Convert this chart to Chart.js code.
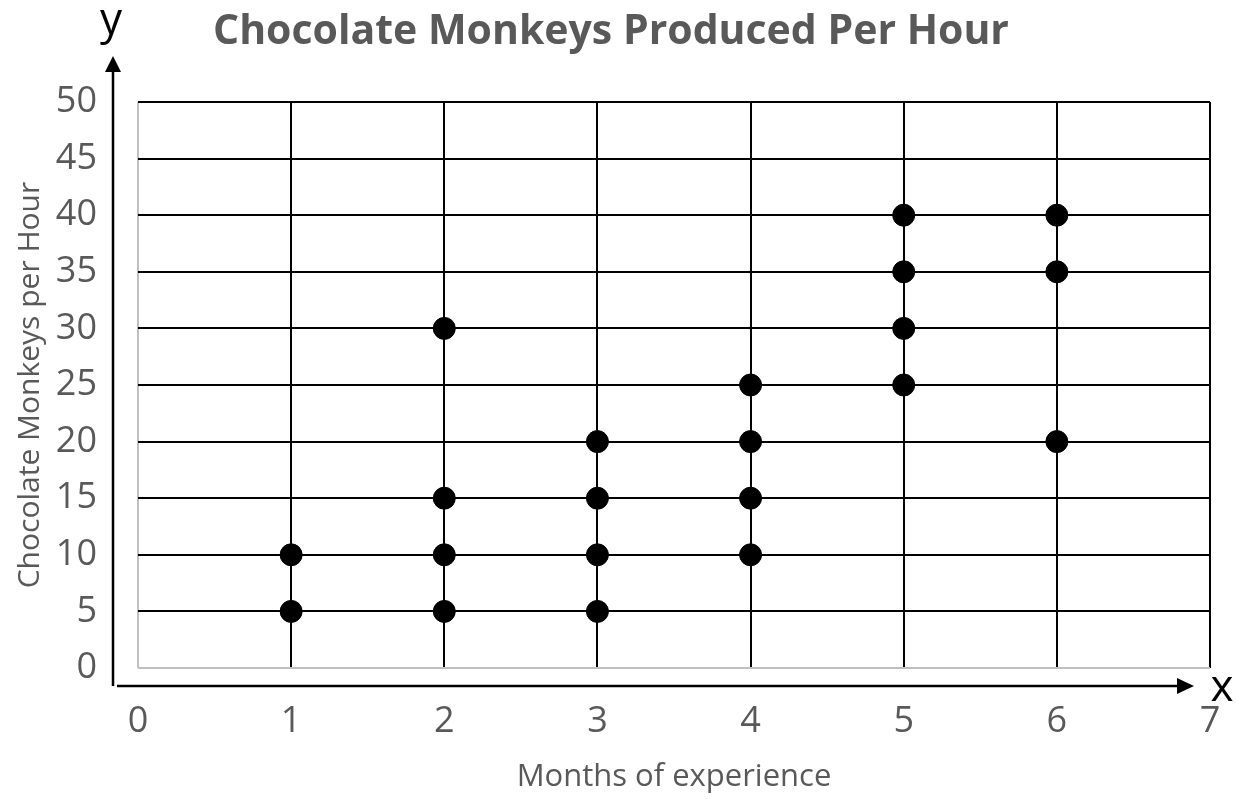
<!DOCTYPE html>
<html>
<head>
<meta charset="utf-8">
<script src="https://cdn.jsdelivr.net/npm/chart.js@4.4.1/dist/chart.umd.min.js"></script>
<style>
  html, body { margin: 0; padding: 0; background: #fff; }
  #wrap { width: 1237px; height: 799px; }
</style>
</head>
<body>
<div id="wrap"><canvas id="monkeyChart" width="1237" height="799"></canvas></div>
<script>
// months of experience and monkeys per hour, one point each
const months = [1, 1, 2, 2, 2, 2, 3, 3, 3, 3, 4, 4, 4, 4, 5, 5, 5, 5, 6, 6, 6];
const monkeys = [5, 10, 5, 10, 15, 30, 5, 10, 15, 20, 10, 15, 20, 25, 25, 30, 35, 40, 20, 35, 40];

const xMin = 0, xMax = 7;
const yMin = 0, yMax = 50, yStep = 5;

const points = months.map((m, i) => ({ x: m, y: monkeys[i] }));

// axis arrows with x / y letters
const arrows = {
    id: "arrows",
    afterDraw(chart) {
        const { ctx, chartArea: a } = chart;
        const ax = a.left - 25;
        const ay = a.bottom + 18;
        ctx.save();
        ctx.strokeStyle = "#000";
        ctx.fillStyle = "#000";
        ctx.lineWidth = 2.5;

        ctx.beginPath();
        ctx.moveTo(ax, ay);
        ctx.lineTo(ax, a.top - 32);
        ctx.stroke();
        ctx.beginPath();
        ctx.moveTo(ax, a.top - 46);
        ctx.lineTo(ax - 8, a.top - 30);
        ctx.lineTo(ax + 8, a.top - 30);
        ctx.closePath();
        ctx.fill();

        ctx.beginPath();
        ctx.moveTo(ax + 4, ay);
        ctx.lineTo(a.right - 32, ay);
        ctx.stroke();
        ctx.beginPath();
        ctx.moveTo(a.right - 16, ay);
        ctx.lineTo(a.right - 33, ay - 8);
        ctx.lineTo(a.right - 33, ay + 8);
        ctx.closePath();
        ctx.fill();

        ctx.font = "44px 'Open Sans'";
        ctx.textAlign = "center";
        ctx.textBaseline = "alphabetic";
        ctx.fillText("y", ax - 2, 34);
        ctx.fillText("x", a.right + 12, ay + 15);
        ctx.restore();
    }
};

const ctx = document.getElementById("monkeyChart").getContext("2d");

new Chart(ctx, {
    type: "scatter",
    data: {
        datasets: [
            {
                label: "Chocolate Monkeys",
                data: points,
                backgroundColor: "#000",
                borderColor: "#000",
                pointRadius: 11,
                pointHoverRadius: 11
            }
        ]
    },
    options: {
        responsive: false,
        animation: false,
        layout: { padding: { left: 12, right: 27, top: 0, bottom: 0 } },
        plugins: {
            legend: { display: false },
            tooltip: { enabled: false },
            title: {
                display: true,
                text: "Chocolate Monkeys Produced Per Hour",
                color: "#595959",
                font: { family: "'Open Sans'", size: 41, weight: "bold" },
                padding: { top: 8, bottom: 44.8 }
            }
        },
        scales: {
            x: {
                type: "linear",
                min: xMin,
                max: xMax,
                afterFit: s => { s.height = 131; },
                ticks: {
                    stepSize: 1,
                    color: "#595959",
                    font: { family: "'Open Sans'", size: 36 },
                    padding: 0
                },
                grid: {
                    color: c => c.tick && c.tick.value === 0 ? "#c0c0c0" : "#000",
                    lineWidth: 2,
                    drawTicks: true,
                    tickLength: 32,
                    tickColor: "rgba(0,0,0,0)"
                },
                border: { display: false },
                title: {
                    display: true,
                    text: "Months of experience",
                    color: "#595959",
                    font: { family: "'Open Sans'", size: 31 },
                    padding: { top: 0, bottom: 3 }
                }
            },
            y: {
                min: yMin,
                max: yMax,
                afterFit: s => { s.width = 126; },
                ticks: {
                    stepSize: yStep,
                    color: "#595959",
                    font: { family: "'Open Sans'", size: 36 },
                    padding: 41
                },
                grid: {
                    color: c => c.tick && c.tick.value === 0 ? "#c0c0c0" : "#000",
                    lineWidth: 2,
                    drawTicks: false
                },
                border: { display: false },
                title: {
                    display: true,
                    text: "Chocolate Monkeys per Hour",
                    color: "#595959",
                    font: { family: "'Open Sans'", size: 30 },
                    padding: { top: 0, bottom: 0 }
                }
            }
        }
    },
    plugins: [arrows]
});
</script>
</body>
</html>
